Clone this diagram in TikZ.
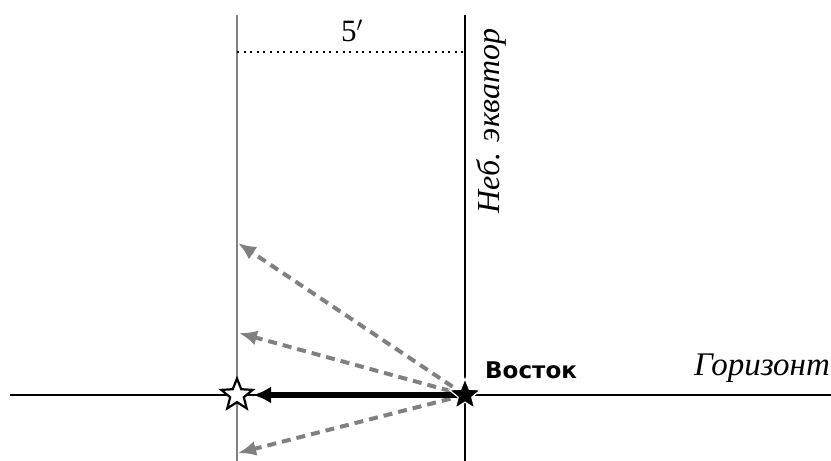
\documentclass[tikz,border=0pt]{standalone}
\usepackage{fontspec}
\setmainfont{Liberation Serif}
\newfontfamily\boldsans{DejaVu Sans}
\usetikzlibrary{shapes.geometric,arrows.meta}
\begin{document}
\begin{tikzpicture}[x=1pt,y=-1pt,
  graydash/.style={draw=gray,line width=4pt,dash pattern=on 9pt off 6pt,-{Latex[length=18pt,width=15pt]}},
  starshape/.style={star,star points=5,star point ratio=2.3,minimum size=33pt,inner sep=0pt,draw=black,line width=2.2pt},
  lbl/.style={inner sep=0pt,anchor=base}]
\useasboundingbox (0,0) rectangle (831,461);
\coordinate (lt) at (237,15);
\coordinate (lb) at (237,461);
\coordinate (rt) at (465,15);
\coordinate (rb) at (465,461);
\coordinate (hl) at (10,395);
\coordinate (hr) at (831,395);
\draw[gray,line width=1.5pt] (lt) -- (lb);
\draw[line width=2pt] (rt) -- (rb);
\draw[line width=1.8pt] (hl) -- (hr);
\coordinate (dl) at (237,52);
\coordinate (dr) at (465,52);
\draw[line width=2pt,dash pattern=on 2pt off 4.6pt] (dl) -- (dr);
\node[lbl,font=\fontsize{31}{33}\selectfont] (five) at (352,41) {5$'$};
\node[lbl,rotate=90,font=\fontsize{32}{34}\selectfont\itshape] (eq) at (499,121) {Неб. экватор};
\node[lbl,anchor=base west,font=\fontsize{23}{25}\selectfont\boldsans\bfseries] (east) at (485,378) {Восток};
\node[lbl,anchor=base west,font=\fontsize{33}{35}\selectfont\itshape] (hor) at (694,375) {Горизонт};
\coordinate (a1) at (238,243);
\coordinate (a2) at (239,333);
\coordinate (a3) at (238,453);
\coordinate (src) at (465,395);
\draw[graydash] (src) -- (a1);
\draw[graydash] (src) -- (a2);
\draw[graydash] (src) -- (a3);
\node[starshape,fill=white] (ws) at (237,395) {};
\coordinate (ae) at (253,395);
\draw[line width=5.5pt,-{Latex[length=18pt,width=17pt]}] (src) -- (ae);
\node[starshape,fill=black,draw=white,line width=1.2pt] (bs) at (465,395) {};
\end{tikzpicture}
\end{document}
